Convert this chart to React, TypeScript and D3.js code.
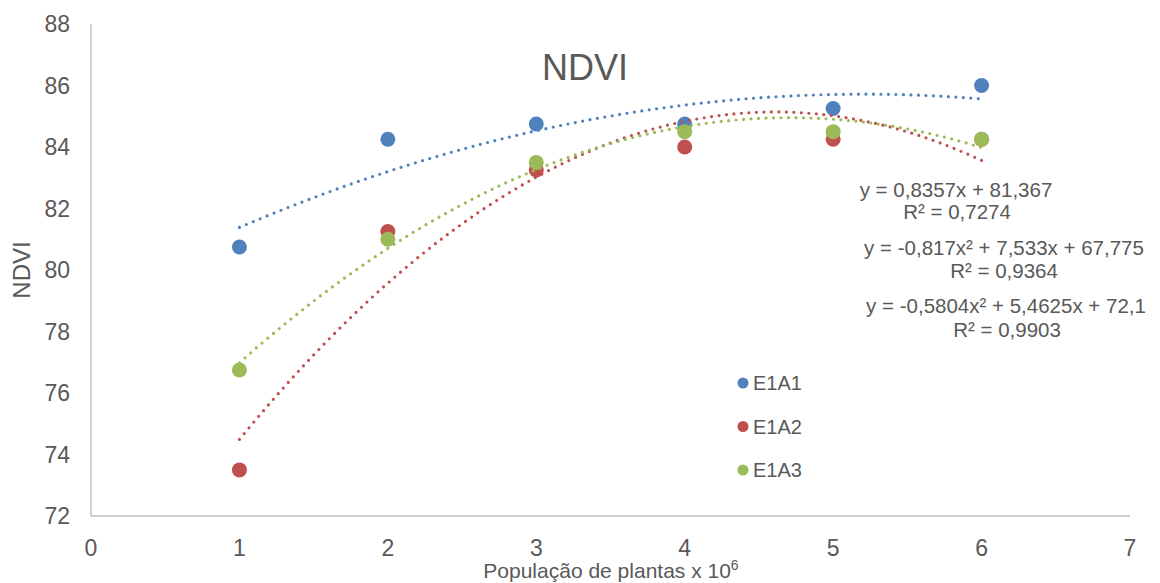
import React from "react";
import * as d3 from "d3";

const xValues = [1, 2, 3, 4, 5, 6];
const seriesNames = ["E1A1", "E1A2", "E1A3"];
const e1a1 = [80.75, 84.25, 84.75, 84.75, 85.25, 86];
const e1a2 = [73.5, 81.25, 83.25, 84, 84.25, 84.25];
const e1a3 = [76.75, 81, 83.5, 84.5, 84.5, 84.25];
const colors = ["#4F81BD", "#C0504D", "#9BBB59"];
const xTicks = [0, 1, 2, 3, 4, 5, 6, 7];
const yTicks = [72, 74, 76, 78, 80, 82, 84, 86, 88];
const eqLines = [
  ["y = 0,8357x + 81,367", "R² = 0,7274"],
  ["y = -0,817x² + 7,533x + 67,775", "R² = 0,9364"],
  ["y = -0,5804x² + 5,4625x + 72,1", "R² = 0,9903"],
];

function quadFit(xs: number[], ys: number[]) {
  const s = [0, 0, 0, 0, 0];
  const t = [0, 0, 0];
  xs.forEach((x, i) => {
    for (let k = 0; k < 5; k++) s[k] += Math.pow(x, k);
    for (let k = 0; k < 3; k++) t[k] += ys[i] * Math.pow(x, k);
  });
  const M = [
    [s[0], s[1], s[2], t[0]],
    [s[1], s[2], s[3], t[1]],
    [s[2], s[3], s[4], t[2]],
  ];
  for (let i = 0; i < 3; i++) {
    for (let j = i + 1; j < 3; j++) {
      const f = M[j][i] / M[i][i];
      for (let k = i; k < 4; k++) M[j][k] -= f * M[i][k];
    }
  }
  const r = [0, 0, 0];
  for (let i = 2; i >= 0; i--) {
    let v = M[i][3];
    for (let k = i + 1; k < 3; k++) v -= M[i][k] * r[k];
    r[i] = v / M[i][i];
  }
  return (x: number) => r[0] + r[1] * x + r[2] * x * x;
}

const FONT = "'Liberation Sans', Arial, sans-serif";
const TXT = "#595959";

export default function App() {
  const W = 1160, H = 583;
  const x = d3.scaleLinear().domain([0, 7]).range([91, 1130]);
  const y = d3.scaleLinear().domain([72, 88]).range([516, 24]);
  const data = [e1a1, e1a2, e1a3];
  const line = d3
    .line<[number, number]>()
    .x((d) => x(d[0]))
    .y((d) => y(d[1]));
  const samples = d3.range(0, 101).map((i) => 1 + (5 * i) / 100);

  const eqPos = [
    [956, 197, 957, 219],
    [1004, 255, 1004, 278],
    [1006, 313, 1007, 337],
  ];

  return (
    <svg
      width={W}
      height={H}
      style={{ position: "absolute", left: 0, top: 0, background: "#fff" }}
      fontFamily={FONT}
    >
      <rect width={W} height={H} fill="#fff" />
      <line x1={x(0)} x2={x(0)} y1={y(88)} y2={y(72)} stroke="#BFBFBF" strokeWidth={1.5} />
      <line x1={x(0)} x2={x(7)} y1={y(72)} y2={y(72)} stroke="#BFBFBF" strokeWidth={1.5} />
      {yTicks.map((t) => (
        <text key={t} x={70} y={y(t)} dy="0.35em" textAnchor="end" fontSize={23} fill={TXT}>
          {t}
        </text>
      ))}
      {xTicks.map((t) => (
        <text key={t} x={x(t)} y={556} textAnchor="middle" fontSize={23} fill={TXT}>
          {t}
        </text>
      ))}
      <text x={585} y={80} textAnchor="middle" fontSize={36} fill={TXT}>
        NDVI
      </text>
      <text
        transform={`translate(30,270) rotate(-90)`}
        textAnchor="middle"
        fontSize={24}
        fill={TXT}
      >
        NDVI
      </text>
      <text x={611} y={578} textAnchor="middle" fontSize={21} fill={TXT}>
        População de plantas x 10
        <tspan fontSize={14} dy={-8}>6</tspan>
      </text>
      {data.map((vals, si) => (
        <g key={si}>
          {vals.map((v, i) => (
            <circle key={i} cx={x(xValues[i])} cy={y(v)} r={7.5} fill={colors[si]} />
          ))}
        </g>
      ))}
      {data.map((vals, si) => {
        const f = quadFit(xValues, vals);
        const pts: [number, number][] = samples.map((s) => [s, f(s)]);
        return (
          <path
            key={si}
            d={line(pts) || ""}
            fill="none"
            stroke={colors[si]}
            strokeWidth={3.2}
            strokeLinecap="round"
            strokeDasharray="0 7.5"
          />
        );
      })}
      {seriesNames.map((n, i) => (
        <g key={n}>
          <circle cx={743} cy={383 + i * 43.5} r={5.5} fill={colors[i]} />
          <text x={753} y={383 + i * 43.5} dy="0.35em" fontSize={20} fill={TXT}>
            {n}
          </text>
        </g>
      ))}
      {eqLines.map((ln, i) => (
        <g key={i}>
          <text x={eqPos[i][0]} y={eqPos[i][1]} textAnchor="middle" fontSize={20.5} fill={TXT}>
            {ln[0]}
          </text>
          <text x={eqPos[i][2]} y={eqPos[i][3]} textAnchor="middle" fontSize={20.5} fill={TXT}>
            {ln[1]}
          </text>
        </g>
      ))}
    </svg>
  );
}
